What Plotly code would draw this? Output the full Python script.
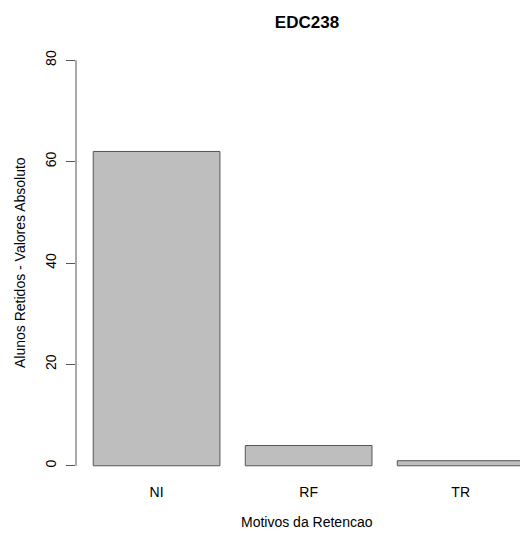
import plotly.graph_objects as go

categories = ["NI", "RF", "TR"]
values = [62, 4, 1]
bar_centers = [0.7, 1.9, 3.1]
y_ticks = [0, 20, 40, 60, 80]

font_family = "Liberation Sans, Arial, Helvetica, sans-serif"
axis_col = "#555555"

fig = go.Figure()
fig.add_trace(go.Bar(
    x=bar_centers, y=values, width=1.0,
    marker=dict(color="#BEBEBE", line=dict(color="#555555", width=1)),
    hoverinfo="skip",
))

W, H = 520, 533
ml, mr, mt, mb = 76, 0, 44, 51
pw = W - ml - mr
ph = H - mt - mb

fig.update_layout(
    width=W, height=H,
    margin=dict(l=ml, r=mr, t=mt, b=mb),
    paper_bgcolor="white", plot_bgcolor="white",
    showlegend=False,
    font=dict(family=font_family, size=14, color="#000000"),
    title=dict(text="<b>EDC238</b>", x=307 / W, xref="container", xanchor="center",
               y=1 - 22 / H, yref="container", yanchor="middle",
               font=dict(size=17, family=font_family, color="#000000")),
    xaxis=dict(range=[0.064, 0.064 + pw / 126.7], tickvals=bar_centers, ticktext=categories,
               showline=False, showgrid=False, zeroline=False, ticks="",
               ticklabelstandoff=0, tickfont=dict(size=14)),
    yaxis=dict(range=[-3.2, 83.2], tickvals=y_ticks, ticktext=[str(v) for v in y_ticks],
               showline=False, showgrid=False, zeroline=False,
               ticks="outside", ticklen=9, tickcolor=axis_col, tickwidth=1,
               tickangle=-90, ticklabelstandoff=4, tickfont=dict(size=14)),
)

fig.add_shape(type="line", xref="paper", yref="y", x0=0, x1=0,
              y0=y_ticks[0], y1=y_ticks[-1], line=dict(color=axis_col, width=1))

fig.add_annotation(text="Motivos da Retencao", xref="paper", yref="paper",
                   x=(307 - ml) / pw, y=-(522 - (H - mb)) / ph,
                   xanchor="center", yanchor="middle", showarrow=False,
                   font=dict(size=14))
fig.add_annotation(text="Alunos Retidos - Valores Absoluto", xref="paper", yref="paper",
                   x=(20 - ml) / pw, y=0.5, textangle=-90,
                   xanchor="center", yanchor="middle", showarrow=False,
                   font=dict(size=14))

fig.write_html("out.html", config={"displayModeBar": False},
               post_script="document.body.style.margin='0px';document.body.style.overflow='hidden';")
